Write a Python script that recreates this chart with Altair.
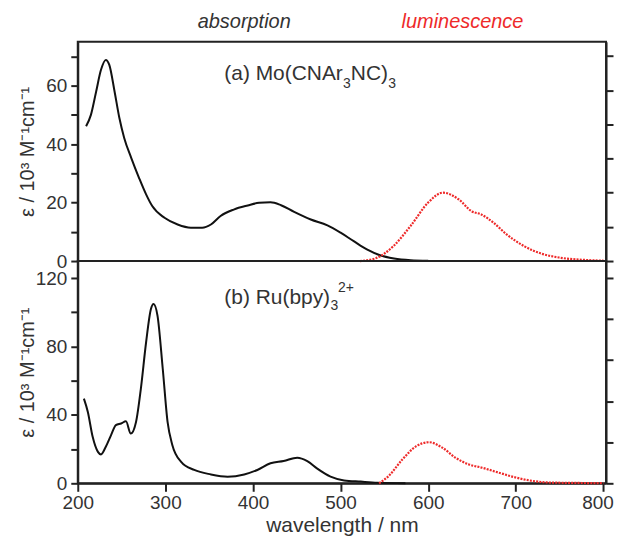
import altair as alt
import pandas as pd

FONT = "Liberation Sans"
TXT = "#333333"
RED = "#ee2a2a"

# ---- data ----
mo_abs_nm = [209.5, 215, 221, 226.5, 232, 236, 242, 247.5, 253, 261, 270, 278, 285, 299, 314,
             329, 342, 352, 363, 378, 394, 407, 420, 432, 447, 466, 485, 500, 515, 530, 545,
             561, 580, 600]
mo_abs_eps = [46.1, 50, 58, 65.4, 68.8, 67.1, 58, 48.9, 42.1, 35.3, 28.4, 22.8, 18.8, 14.8, 12.5,
              11.4, 11.4, 12.5, 15.4, 17.6, 19, 19.9, 20.1, 19.1, 16.8, 14.2, 12.2, 9.7, 6.8, 4, 2,
              0.9, 0.3, 0.1]

mo_lum_nm = [522, 540, 560, 580, 600, 617, 635, 650, 660, 675, 690, 710, 730, 750, 780, 800]
mo_lum_int = [0, 0.08, 0.43, 1.03, 1.71, 2.0, 1.8, 1.45, 1.37, 1.11, 0.77, 0.43, 0.21, 0.1, 0.03, 0.01]

ru_abs_nm = [207, 211.5, 217, 223, 226.5, 232, 238, 243.5, 249.5, 255, 260.5, 266.5, 272, 278,
             283.5, 286.5, 291, 297, 302.5, 308, 318, 333, 352, 371, 390, 405, 420, 435, 450.5,
             462, 473, 488.5, 504, 523, 542, 574]
ru_abs_eps = [49.5, 41.7, 27.2, 18.4, 16.9, 21.4, 28.2, 34, 35, 36.3, 29.1, 35.9, 55.3, 82.5,
              101.9, 104.9, 98.1, 67, 35.9, 22.3, 12.6, 7.8, 5.2, 3.9, 5.2, 7.8, 11.7, 13, 15,
              13, 8.7, 3.9, 1.7, 1, 0.4, 0.1]

ru_lum_nm = [544, 555, 570.5, 586, 601, 616, 631, 646.5, 661.5, 680.5, 700, 718.5, 737.5, 775, 800]
ru_lum_int = [0, 0.18, 0.58, 0.9, 1.0, 0.87, 0.625, 0.46, 0.38, 0.26, 0.14, 0.06, 0.02, 0.008, 0.004]

x_ticks = [200, 300, 400, 500, 600, 700, 800]
top_y_ticks = [0, 10, 20, 30, 40, 50, 60, 70]
bot_y_ticks = [0, 20, 40, 60, 80, 100, 120]
y_title = "ε / 10³ M⁻¹cm⁻¹"

W = 530
H_TOP = 220
H_BOT = 223
X_DOMAIN = [200, 803]


def txt(t, x, y, size=21, color=TXT, align="left", style="normal"):
    return alt.Chart(pd.DataFrame({"t": [t]})).mark_text(
        font=FONT, fontSize=size, color=color, align=align, baseline="middle",
        fontStyle=style
    ).encode(x=alt.value(x), y=alt.value(y), text="t:N")


def panel(abs_nm, abs_eps, lum_nm, lum_int, ymax, yticks, lab_every, rmax, rticks, h, show_x,
          labels):
    if show_x:
        xaxis = alt.Axis(values=x_ticks, title="wavelength / nm", tickSize=8, labelPadding=2,
                         labelFlush=False, labelOverlap=False, titlePadding=2, titleFontSize=21,
                         labelOffset={"condition": {"test": "datum.value == 800", "value": -6},
                                      "value": 0})
    else:
        xaxis = None
    xenc = alt.X("nm:Q", scale=alt.Scale(domain=X_DOMAIN, nice=False, zero=False), axis=xaxis)
    absorb = alt.Chart(pd.DataFrame({"nm": abs_nm, "eps": abs_eps})).mark_line(
        color="#111111", strokeWidth=2, interpolate="monotone"
    ).encode(
        x=xenc,
        y=alt.Y("eps:Q", scale=alt.Scale(domain=[0, ymax], nice=False),
                axis=alt.Axis(values=yticks, orient="left",
                              labelExpr=f"datum.value % {lab_every} == 0 ? datum.label : ''",
                              title=y_title, titleX=-50, titleY=h / 2, titleAngle=270,
                              titleBaseline="middle", titleAlign="center",
                              labelOverlap=False, labelFlush=False))
    )
    lum = alt.Chart(pd.DataFrame({"nm": lum_nm, "lum": lum_int})).mark_line(
        color=RED, strokeWidth=2.2, strokeDash=[2, 1.2], interpolate="monotone"
    ).encode(
        x=xenc,
        y=alt.Y("lum:Q", scale=alt.Scale(domain=[0, rmax], nice=False),
                axis=alt.Axis(values=rticks, orient="right", labels=False, title=None))
    )
    layers = [absorb, lum] + labels
    return alt.layer(*layers).resolve_scale(y="independent").properties(width=W, height=h)


top_labels = [
    txt("absorption", 167, -20, size=20, align="center", style="italic"),
    txt("luminescence", 386, -20, size=20, color=RED, align="center", style="italic"),
    txt("(a) Mo(CNAr", 147, 32),
    txt("3", 266, 42, size=14),
    txt("NC)", 274, 32),
    txt("3", 311.5, 42, size=14),
]
bot_labels = [
    txt("(b) Ru(bpy)", 147, 37),
    txt("3", 253.5, 45, size=14),
    txt("2+", 261, 27, size=14),
]

top = panel(mo_abs_nm, mo_abs_eps, mo_lum_nm, mo_lum_int, 75, top_y_ticks, 20,
            H_TOP / 34.3, [0, 1, 2, 3, 4, 5, 6], H_TOP, False, top_labels)
bot = panel(ru_abs_nm, ru_abs_eps, ru_lum_nm, ru_lum_int, 130, bot_y_ticks, 40,
            H_BOT / 41.2, [0, 1, 2, 3, 4, 5], H_BOT, True, bot_labels)

chart = alt.vconcat(top, bot, spacing=0, bounds="flush").properties(
    padding={"left": 9, "top": 2, "right": 0, "bottom": 0}
).configure_view(
    stroke="#222222", strokeWidth=2
).configure_axis(
    domainColor="#222222", domainWidth=2, tickColor="#222222", tickWidth=2, tickSize=7,
    labelFont=FONT, labelFontSize=19, labelColor=TXT, labelPadding=4,
    titleFont=FONT, titleFontSize=20, titleFontWeight="normal", titleColor=TXT, grid=False
)

chart.save("out.html", embed_options={"renderer": "svg", "actions": False})
